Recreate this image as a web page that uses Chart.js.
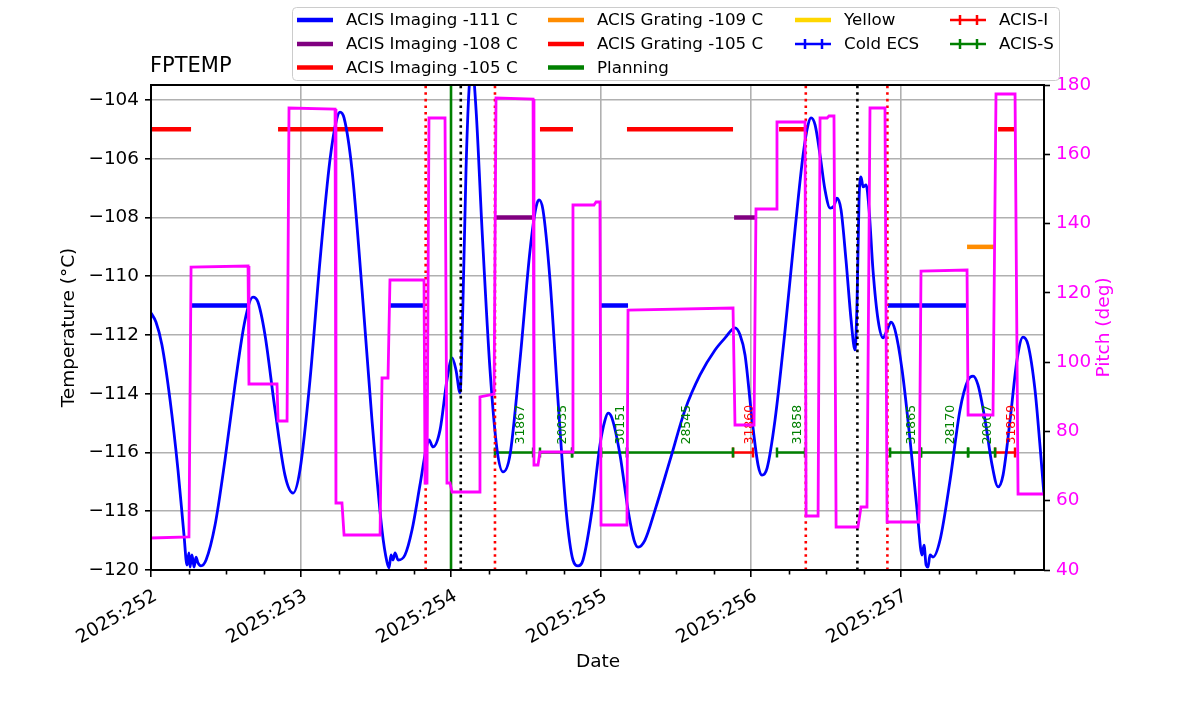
<!DOCTYPE html>
<html><head><meta charset="utf-8">
<script src="https://cdn.jsdelivr.net/npm/chart.js@4"></script>
<style>html,body{margin:0;padding:0;background:#fff;}#wrap{width:1200px;height:714px;position:relative;}</style>
</head><body><div id="wrap"><canvas id="c"></canvas></div>
<script>
// ---- axis limits ----
const xMin = 252, xMax = 257.953;
const tMin = -120, tMax = -103.49;
const pMin = 40, pMax = 180;

// ---- FPTEMP (deg C) vs day of year 2025 ----
const fpDays = [252.000,252.033,252.073,252.127,252.180,252.220,252.240,252.253,252.260,252.273,
252.287,252.300,252.313,252.333,252.367,252.427,252.493,252.560,252.627,252.680,
252.713,252.760,252.827,252.893,252.947,252.993,253.060,253.127,253.193,253.240,
253.260,253.287,253.340,253.407,253.473,253.540,253.573,253.587,253.600,253.613,
253.627,253.647,253.693,253.740,253.793,253.833,253.853,253.880,253.927,253.973,
254.007,254.033,254.060,254.080,254.100,254.120,254.140,254.167,254.207,254.260,
254.307,254.347,254.393,254.460,254.527,254.567,254.587,254.613,254.660,254.713,
254.767,254.813,254.847,254.880,254.940,254.993,255.027,255.047,255.073,255.127,
255.180,255.220,255.247,255.293,255.360,255.460,255.560,255.660,255.760,255.827,
255.893,255.927,255.960,256.007,256.047,256.073,256.107,256.160,256.227,256.293,
256.347,256.380,256.400,256.427,256.460,256.493,256.527,256.553,256.573,256.600,
256.633,256.667,256.693,256.707,256.720,256.733,256.747,256.767,256.787,256.813,
256.847,256.880,256.907,256.933,256.960,257.007,257.060,257.107,257.140,257.153,
257.167,257.180,257.193,257.213,257.260,257.327,257.393,257.447,257.480,257.513,
257.560,257.607,257.647,257.680,257.727,257.773,257.813,257.847,257.893,257.927,
257.953];
const fpTemps = [-111.25,-111.56,-112.34,-114.21,-116.60,-118.81,-119.83,-119.42,-119.90,-119.49,
-119.90,-119.56,-119.76,-119.86,-119.66,-118.47,-116.26,-113.70,-111.49,-110.71,
-110.88,-112.00,-114.55,-116.77,-117.38,-116.60,-113.53,-109.45,-106.04,-104.61,
-104.41,-104.61,-106.38,-110.47,-114.89,-118.64,-119.73,-119.93,-119.49,-119.66,
-119.42,-119.66,-119.49,-118.64,-117.11,-115.91,-115.57,-115.81,-115.23,-113.53,
-112.78,-113.19,-113.97,-110.81,-106.38,-103.66,-102.81,-104.34,-108.43,-113.19,
-115.91,-116.66,-116.09,-112.85,-109.11,-107.64,-107.40,-107.74,-110.13,-114.21,
-117.96,-119.66,-119.86,-119.66,-117.96,-115.74,-114.89,-114.66,-114.83,-116.09,
-117.96,-118.98,-119.22,-118.98,-117.96,-116.26,-114.55,-113.36,-112.51,-112.10,
-111.76,-112.00,-112.68,-114.89,-116.43,-116.77,-116.53,-114.89,-111.83,-108.43,
-105.87,-104.85,-104.61,-104.85,-105.87,-107.06,-107.68,-107.61,-107.34,-107.74,
-109.45,-111.49,-112.51,-110.81,-107.40,-106.62,-106.96,-106.89,-107.74,-109.79,
-111.49,-112.10,-111.83,-111.56,-111.83,-113.19,-115.57,-117.96,-119.49,-119.15,
-119.83,-119.90,-119.49,-119.56,-118.98,-116.94,-114.55,-113.53,-113.40,-113.70,
-114.89,-116.43,-117.17,-116.77,-114.89,-112.85,-112.07,-112.34,-113.87,-115.81,
-117.45];

// ---- Pitch (deg) ----
const pitchDays = [252.000,252.253,252.267,252.647,252.653,252.840,252.847,252.907,252.920,253.227,
253.233,253.273,253.287,253.527,253.540,253.580,253.593,253.820,253.827,253.840,
253.853,253.960,253.973,253.993,254.007,254.187,254.193,254.287,254.300,254.547,
254.553,254.580,254.593,254.807,254.813,254.953,254.967,254.993,255.000,255.173,
255.180,255.880,255.893,256.020,256.033,256.167,256.173,256.360,256.367,256.447,
256.460,256.507,256.520,256.553,256.567,256.713,256.733,256.773,256.793,256.893,
256.907,257.120,257.133,257.440,257.447,257.613,257.633,257.760,257.780,257.953];
const pitchVals = [49.24,49.53,127.46,127.75,93.69,93.69,83.01,83.01,173.36,173.07,
59.34,59.34,50.10,50.10,95.42,95.42,123.71,123.71,65.11,65.11,
170.47,170.47,65.11,65.11,62.52,62.52,89.94,90.80,176.25,175.96,
70.31,70.31,74.06,74.06,145.36,145.36,146.23,146.23,52.99,52.99,
115.05,115.63,81.86,81.86,144.21,144.21,169.32,169.32,55.59,55.59,
170.47,170.47,171.05,171.05,52.41,52.41,58.19,58.19,173.36,173.36,
53.86,53.86,126.31,126.60,84.74,84.74,177.40,177.40,61.94,61.94];

// ---- mode limit intervals [start, stop] (day) and their levels ----
const img111 = [[252.267,252.647],[253.593,253.820],[255.000,255.180],[256.913,257.440]];
const img108 = [[254.293,254.547],[255.887,256.027]];
const img105 = [[252.000,252.267],[252.847,253.547],[254.593,254.813],[255.173,255.880],[256.187,256.353],[257.647,257.760]];
const grt109 = [[257.440,257.620]];
const grt105 = [];
const modeLevels = [-111, -108, -105, -109, -105];

// ---- planned observations ----
const obsIds   = ['31867','20035','','30151','28545','31860','31858','31865','28170','20007','31859'];
const obsInst  = ['S','S','S','S','S','I','S','S','S','S','I'];
const obsStart = [254.293,254.593,254.807,255.000,255.173,255.880,256.173,256.927,257.133,257.447,257.627];
const obsStop  = [254.547,254.807,255.000,255.173,255.880,256.013,256.360,257.133,257.447,257.627,257.760];
const planLevel = -116;
const obsLabelLevel = -115.73;

// ---- vertical markers (day) ----
const redLines = [253.831, 254.293, 256.365, 256.909];
const blackLines = [254.065, 256.709];
const greenLines = [254.0];

// ---- x tick labels (day of year) ----
const xTickDays = [252, 253, 254, 255, 256, 257];
const xTickLabels = ['2025:252','2025:253','2025:254','2025:255','2025:256','2025:257'];

// ---- legend ----
const legendLabels = ['ACIS Imaging -111 C','ACIS Imaging -108 C','ACIS Imaging -105 C','ACIS Grating -109 C','ACIS Grating -105 C','Planning','Yellow','Cold ECS','ACIS-I','ACIS-S'];
const legendColors = ['#0000ff','#800080','#ff0000','#ff8c00','#ff0000','#008000','#ffd700','#0000ff','#ff0000','#008000'];
const legendKinds  = ['line','line','line','line','line','line','line','err','err','err'];

// ---------- build datasets ----------
function segs(intervals, level){
  const out=[];
  intervals.forEach(([a,b])=>{ out.push({x:a,y:level},{x:b,y:level},{x:b,y:null}); });
  return out;
}
function vlines(xs){
  const out=[];
  xs.forEach(v=>{ out.push({x:v,y:tMin},{x:v,y:tMax},{x:v,y:null}); });
  return out;
}
function planSegs(inst){
  const out=[];
  obsIds.forEach((id,i)=>{ if(obsInst[i]===inst){ out.push({x:obsStart[i],y:planLevel},{x:obsStop[i],y:planLevel},{x:obsStop[i],y:null}); } });
  return out;
}
const fpData = fpDays.map((d,i)=>({x:d,y:fpTemps[i]}));
const pitchData = pitchDays.map((d,i)=>({x:d,y:pitchVals[i]}));

const modeSets = [img111, img108, img105, grt109, grt105];
const modeDs = modeSets.map((s,i)=>({
  label: legendLabels[i], data: segs(s, modeLevels[i]), borderColor: legendColors[i],
  borderWidth: 4.5, pointRadius: 0, yAxisID:'y', order: 5, borderCapStyle:'butt'
}));

function planDs(inst, color, label){
  return { label, data: planSegs(inst), borderColor: color, backgroundColor: color, borderWidth: 2.5,
    pointStyle:'line', pointRotation: 90, pointRadius: 5, pointBorderWidth: 2.5, pointBorderColor: color,
    yAxisID:'y', order: 4 };
}

const isInt = v => Math.abs(v - Math.round(v)) < 1e-6;

function drawObsLabels(chart){
  const ctx = chart.ctx, xs = chart.scales.x, ys = chart.scales.y;
  ctx.save();
  ctx.font = '12.5px "DejaVu Sans"';
  ctx.textAlign = 'left'; ctx.textBaseline = 'top';
  obsIds.forEach((id,i)=>{
    if(!id) return;
    const xc = xs.getPixelForValue((obsStart[i]+obsStop[i])/2);
    const yc = ys.getPixelForValue(obsLabelLevel);
    ctx.save();
    ctx.translate(xc, yc); ctx.rotate(-Math.PI/2);
    ctx.fillStyle = obsInst[i]==='I' ? '#ff0000' : '#008000';
    ctx.fillText(id, 0, 0);
    ctx.restore();
  });
  ctx.restore();
}

const overlay = {
  id:'overlay',
  beforeDatasetDraw(chart, args){
    if(chart.data.datasets[args.index].label === 'Pitch') drawObsLabels(chart);
  },
  afterDatasetsDraw(chart){
    const ctx = chart.ctx, a = chart.chartArea, xs = chart.scales.x;
    ctx.save();
    ctx.strokeStyle = '#000'; ctx.lineWidth = 1.6;
    for(let v = xMin + 0.25; v < xMax; v += 0.25){
      if(isInt(v)) continue;
      const px = Math.round(xs.getPixelForValue(v)) + 0.5;
      ctx.beginPath(); ctx.moveTo(px, a.bottom); ctx.lineTo(px, a.bottom + 4.5); ctx.stroke();
    }
    ctx.lineWidth = 2;
    ctx.strokeRect(a.left, a.top, a.right - a.left, a.bottom - a.top);
    ctx.restore();
  },
  afterDraw(chart){
    const ctx = chart.ctx, a = chart.chartArea, xs = chart.scales.x;
    ctx.save();
    ctx.fillStyle = '#000';
    // x tick labels, rotated 30 deg, right end at the tick
    ctx.font = '18.7px "DejaVu Sans"'; ctx.textAlign='right'; ctx.textBaseline='alphabetic';
    xTickDays.forEach((d,i)=>{
      const px = xs.getPixelForValue(d);
      ctx.save(); ctx.translate(px + 7, a.bottom + 29); ctx.rotate(-Math.PI/6);
      ctx.fillText(xTickLabels[i], 0, 0); ctx.restore();
    });
    ctx.font = '21px "DejaVu Sans"'; ctx.textAlign='left'; ctx.textBaseline='alphabetic';
    ctx.fillText('FPTEMP', a.left - 1, 72);
    ctx.font = '18.5px "DejaVu Sans"'; ctx.textAlign='center'; ctx.textBaseline='middle';
    ctx.fillText('Date', (a.left + a.right)/2 + 0.5, 662);
    ctx.save(); ctx.translate(69, (a.top + a.bottom)/2); ctx.rotate(-Math.PI/2);
    ctx.fillText('Temperature (°C)', 0, 0); ctx.restore();
    ctx.save(); ctx.translate(1104, (a.top + a.bottom)/2); ctx.rotate(-Math.PI/2);
    ctx.fillStyle = '#ff00ff'; ctx.fillText('Pitch (deg)', 0, 0); ctx.restore();

    // legend
    const bx = 292.5, by = 7.5, bw = 767, bh = 73;
    ctx.beginPath(); ctx.roundRect(bx, by, bw, bh, 4);
    ctx.fillStyle = 'rgba(255,255,255,0.8)'; ctx.fill();
    ctx.strokeStyle = '#cccccc'; ctx.lineWidth = 1; ctx.stroke();
    const colX = [297, 548, 795, 950], rowY = [20, 44, 67.5];
    const legendCol = [0,0,0,1,1,1,2,2,3,3], legendRow = [0,1,2,0,1,2,0,1,0,1];
    ctx.font = '16.7px "DejaVu Sans"'; ctx.textAlign='left'; ctx.textBaseline='middle';
    legendLabels.forEach((lab,i)=>{
      const x0 = colX[legendCol[i]], y0 = rowY[legendRow[i]];
      ctx.strokeStyle = legendColors[i];
      ctx.lineCap = 'butt';
      if(legendKinds[i]==='line'){
        ctx.lineWidth = 4.5;
        ctx.beginPath(); ctx.moveTo(x0, y0); ctx.lineTo(x0+36, y0); ctx.stroke();
      } else {
        ctx.lineWidth = 2.5;
        ctx.beginPath(); ctx.moveTo(x0, y0); ctx.lineTo(x0+36, y0);
        ctx.moveTo(x0+10, y0-5); ctx.lineTo(x0+10, y0+5);
        ctx.moveTo(x0+27, y0-5); ctx.lineTo(x0+27, y0+5);
        ctx.stroke();
      }
      ctx.fillStyle = '#000';
      ctx.fillText(lab, x0 + 49, y0 + 1);
    });
    ctx.restore();
  }
};

Chart.defaults.font.family = '"DejaVu Sans"';
Chart.defaults.color = '#000';

new Chart(document.getElementById('c'), {
  type:'line',
  data:{ datasets:[
    { label:'Pitch', data: pitchData, borderColor:'#ff00ff', borderWidth: 2.8, pointRadius:0, tension:0,
      yAxisID:'y2', order:0 },
    { label:'black markers', data: vlines(blackLines), borderColor:'#000', borderWidth:2.6, borderDash:[2.6,4],
      pointRadius:0, yAxisID:'y', order:1 },
    { label:'red markers', data: vlines(redLines), borderColor:'#ff0000', borderWidth:2.6, borderDash:[2.6,4],
      pointRadius:0, yAxisID:'y', order:1 },
    { label:'green markers', data: vlines(greenLines), borderColor:'#008000', borderWidth:2.6,
      pointRadius:0, yAxisID:'y', order:1 },
    { label:'FPTEMP', data: fpData, borderColor:'#0000ff', borderWidth:2.8, pointRadius:0,
      cubicInterpolationMode:'monotone', yAxisID:'y', order:2 },
    planDs('S', '#008000', 'ACIS-S'),
    planDs('I', '#ff0000', 'ACIS-I'),
    ...modeDs
  ]},
  options:{
    responsive:true, maintainAspectRatio:false, animation:false,
    layout:{ padding:{ top:85, left:0, right:0, bottom:0 } },
    plugins:{ legend:{display:false}, tooltip:{enabled:false}, title:{display:false} },
    scales:{
      x:{ type:'linear', min:xMin, max:xMax,
        afterFit(s){ s.height = 144; },
        border:{display:false},
        grid:{ color: c => (c.tick && isInt(c.tick.value)) ? '#b0b0b0' : 'rgba(0,0,0,0)', lineWidth:1.6,
               tickColor: c => (c.tick && isInt(c.tick.value)) ? '#000' : 'rgba(0,0,0,0)', tickLength:7, tickWidth:1.6 },
        ticks:{ stepSize:0.25, autoSkip:false, includeBounds:false, minRotation:0, maxRotation:0,
          font:{size:18}, color:'#000', padding:4,
          callback: () => '' } },
      y:{ type:'linear', position:'left', min:tMin, max:tMax,
        afterFit(s){ s.width = 151; },
        border:{display:false},
        grid:{ color:'#b0b0b0', lineWidth:1.6, tickColor:'#000', tickLength:6, tickWidth:1.6 },
        ticks:{ stepSize:2, includeBounds:false, font:{size:18.4}, color:'#000', padding:6,
          callback: v => (v < 0 ? '\u2212' + Math.abs(v) : String(v)) } },
      y2:{ type:'linear', position:'right', min:pMin, max:pMax,
        afterFit(s){ s.width = 156; },
        border:{display:false},
        grid:{ drawOnChartArea:false, color:'#000', tickColor:'#000', tickLength:6, tickWidth:1.6 },
        ticks:{ stepSize:20, includeBounds:false, font:{size:18.4}, color:'#ff00ff', padding:6 } }
    }
  },
  plugins:[overlay]
});
</script>
</body></html>
